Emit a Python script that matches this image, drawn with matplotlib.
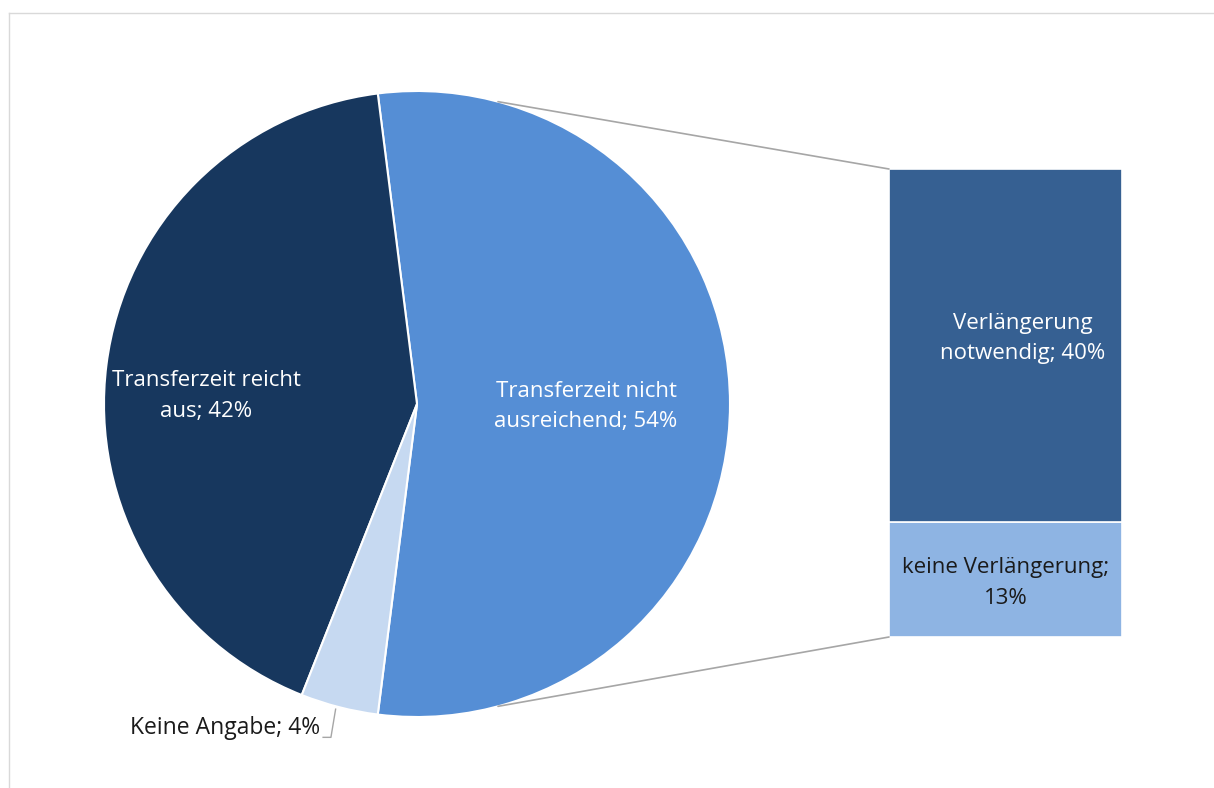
import matplotlib
matplotlib.use("Agg")
import matplotlib.pyplot as plt
from matplotlib.patches import ConnectionPatch
import numpy as np

plt.rcParams['font.family'] = ['Open Sans', 'DejaVu Sans']

# --- data ---
pie_labels = ['Transferzeit nicht\nausreichend', 'Transferzeit reicht\naus', 'Keine Angabe']
pie_values = [54, 42, 4]
pie_colors = ['#558ED5', '#17375E', '#C6D9F1']

bar_labels = ['keine Verlängerung;\n13%', 'Verlängerung\nnotwendig; 40%']
bar_values = [13, 40]
bar_colors = ['#8EB4E3', '#366092']

W, H = 1214, 788
FS = 16
LS = 1.6
fig = plt.figure(figsize=(W / 100, H / 100), dpi=100)

# light frame (top and left)
fig.add_artist(plt.Line2D([9 / W, 1], [1 - 13 / H, 1 - 13 / H], color='#D9D9D9', lw=1))
fig.add_artist(plt.Line2D([9 / W, 9 / W], [0, 1 - 13 / H], color='#D9D9D9', lw=1))

# pie axes
cx, cy, r = 417, 404, 313
ax = fig.add_axes([(cx - r) / W, 1 - (cy + r) / H, 2 * r / W, 2 * r / H])
start = -pie_values[0] / 100 * 360 / 2
wedges, _ = ax.pie(pie_values, colors=pie_colors, startangle=start, counterclock=True,
                   radius=1, wedgeprops=dict(edgecolor='white', linewidth=1.5))
ax.set_xlim(-1, 1)
ax.set_ylim(-1, 1)
ax.set_aspect('equal')
ax.axis('off')

ax.text(0.54, -0.008, f'{pie_labels[0]}; {pie_values[0]}%', color='white', ha='center',
        va='center', fontsize=FS, linespacing=LS)
ax.text(-0.674, 0.025, f'{pie_labels[1]}; {pie_values[1]}%', color='white', ha='center',
        va='center', fontsize=FS, linespacing=LS)
ax.text(-0.31, -1.035, f'{pie_labels[2]}; {pie_values[2]}%', color='#1a1a1a', ha='right',
        va='center', fontsize=FS + 0.5)
# leader for small slice
ax.plot([-0.30, -0.275, -0.26], [-1.065, -1.065, -0.975], color='#A6A6A6', lw=1, clip_on=False)

# bar axes
bx0, bx1, by0, by1 = 889, 1122, 169, 637
bax = fig.add_axes([bx0 / W, 1 - by1 / H, (bx1 - bx0) / W, (by1 - by0) / H])
bottom = 0
for lab, val, col in zip(bar_labels, bar_values, bar_colors):
    bax.bar(0, val, bottom=bottom, width=1, color=col, edgecolor='white', linewidth=1.2)
    tc = 'white' if col == bar_colors[1] else '#1a1a1a'
    xoff = 0.075 if col == bar_colors[1] else 0.0
    yoff = 0.8 if col == bar_colors[1] else -0.4
    bax.text(xoff, bottom + val / 2 + yoff, lab, color=tc, ha='center', va='center',
             fontsize=FS, linespacing=LS)
    bottom += val
bax.set_xlim(-0.5, 0.5)
bax.set_ylim(0, sum(bar_values))
bax.axis('off')

# connector lines
ang = np.deg2rad(75)
for sgn, yb in [(1, sum(bar_values)), (-1, 0)]:
    con = ConnectionPatch(xyA=(np.cos(ang), sgn * np.sin(ang)), coordsA=ax.transData,
                          xyB=(-0.5, yb), coordsB=bax.transData, color='#A6A6A6', lw=1.2)
    fig.add_artist(con)

fig.savefig('out.png', dpi=100, facecolor='white')
